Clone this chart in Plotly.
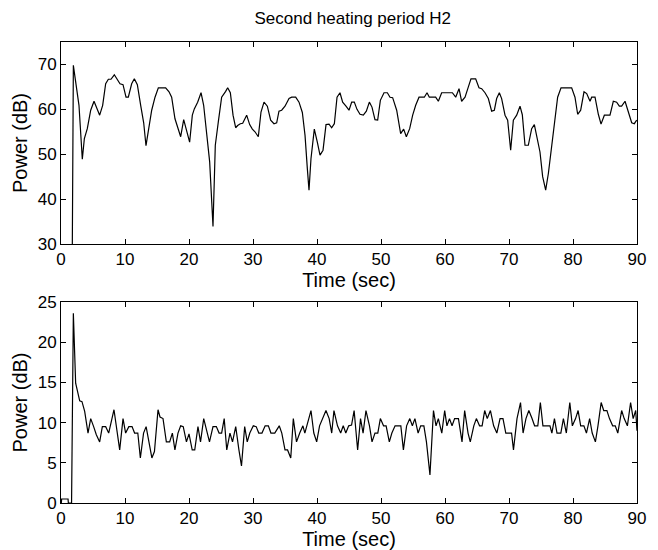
import plotly.graph_objects as go
from plotly.subplots import make_subplots

# ---- Top panel (Power dB vs time) ----
t_top = [0.1, 1.1, 1.65, 1.93, 2.81, 3.33, 3.65, 4.11, 4.64, 5.16, 5.57, 6.04, 6.51, 6.98, 7.40, 7.81,
         8.33, 8.75, 9.22, 9.69, 10.16, 10.52, 11.04, 11.46, 11.93, 12.45, 12.92, 13.28, 13.75, 14.17,
         14.69, 15.21, 15.73, 16.35, 16.88, 17.29, 17.81, 18.23, 18.70, 19.17, 19.64, 20.10, 20.52,
         20.83, 21.35, 21.88, 22.29, 22.76, 23.23, 23.75, 24.11, 24.58, 25.10, 25.73, 26.04, 26.46,
         26.88, 27.29, 27.60, 28.02, 28.39, 29.01, 29.48, 29.90, 30.31, 30.83, 31.25, 31.72, 32.24,
         32.76, 33.28, 33.70, 34.06, 34.48, 35.00, 35.63, 36.04, 36.67, 37.19, 37.71, 38.13, 38.49,
         38.75, 39.06, 39.58, 40.05, 40.47, 40.94, 41.41, 41.88, 42.29, 42.71, 43.13, 43.59, 44.01,
         44.53, 45.00, 45.42, 45.83, 46.25, 46.72, 47.24, 47.71, 48.18, 48.59, 49.06, 49.48, 49.90,
         50.47, 50.99, 51.41, 51.82, 52.45, 53.07, 53.54, 53.96, 54.48, 54.95, 55.42, 55.94, 56.35,
         56.77, 57.19, 57.55, 58.07, 58.54, 58.96, 59.48, 60.00, 60.26, 61.15, 61.67, 62.19, 62.60,
         63.13, 63.65, 64.06, 64.79, 65.31, 65.73, 66.25, 66.77, 67.29, 67.71, 68.07, 68.49, 68.85,
         69.38, 69.79, 70.26, 70.68, 71.20, 71.72, 72.08, 72.50, 73.02, 73.54, 73.96, 74.32, 74.84,
         75.26, 75.73, 76.15, 76.67, 77.19, 77.60, 78.13, 78.75, 79.27, 79.79, 80.31, 80.73, 81.20,
         81.72, 82.14, 82.66, 82.92, 83.44, 83.96, 84.38, 84.90, 85.42, 85.78, 86.30, 86.82, 87.24,
         87.60, 88.13, 88.54, 89.17, 89.58, 89.95]
p_top = [0, 0, 0, 69.8, 60.9, 48.9, 53.5, 55.7, 59.8, 61.8, 60.5, 58.7, 60.9, 65.7, 66.7, 66.7,
         67.7, 66.7, 65.7, 65.5, 62.7, 62.7, 65.7, 66.8, 65.5, 60.9, 57.0, 51.9, 56.4, 59.8,
         62.7, 64.8, 64.8, 64.8, 63.9, 62.7, 57.9, 56.1, 53.9, 57.7, 55.0, 52.7, 58.7,
         60.1, 61.6, 63.7, 60.9, 55.0, 48.3, 33.9, 52.0, 57.2, 62.7, 64.0, 64.8, 63.7,
         58.7, 55.9, 56.4, 56.8, 56.9, 58.7, 56.6, 55.6, 55.0, 53.9, 59.4, 61.6, 60.7,
         57.6, 56.8, 57.0, 59.6, 59.8, 60.7, 62.4, 62.7, 62.7, 61.6, 59.3, 54.2, 46.8,
         42.0, 49.0, 55.6, 52.7, 49.8, 50.9, 56.6, 56.7, 55.9, 56.8, 62.7, 63.7, 61.6,
         60.7, 59.8, 61.6, 61.6, 60.0, 58.9, 58.7, 59.6, 61.6, 60.5, 57.7, 57.6, 62.0,
         63.7, 63.7, 62.7, 62.6, 59.8, 54.6, 55.6, 53.9, 55.7, 58.7, 60.9, 62.7, 62.7,
         62.7, 63.7, 62.7, 62.7, 62.7, 61.8, 63.7, 63.7, 63.7, 63.7, 62.7, 64.6, 61.8,
         62.7, 65.0, 66.8, 66.8, 64.8, 64.6, 63.7, 62.4, 59.6, 59.8, 62.4, 63.7, 62.4,
         58.7, 57.6, 50.9, 57.6, 58.7, 60.7, 58.8, 52.0, 52.0, 55.7, 56.6, 54.2, 50.5,
         45.0, 42.0, 45.7, 52.0, 58.7, 62.7, 64.8, 64.8, 64.8, 64.8, 62.7, 58.9, 59.8,
         63.9, 63.5, 61.8, 62.7, 62.7, 58.9, 56.7, 58.7, 58.7, 58.7, 61.8, 61.6, 60.7,
         60.7, 61.8, 59.8, 57.0, 56.8, 57.6]

# ---- Bottom panel ----
t_bot = [0.05, 0.1, 1.1, 1.15, 1.65, 1.93, 2.29, 2.55, 2.92, 3.28, 3.70, 4.22, 4.64, 5.10, 5.52,
         6.04, 6.46, 6.98, 7.45, 8.28, 9.17, 9.69, 10.1, 10.6, 11.1, 11.5, 12.0, 12.4, 12.9, 13.3,
         13.75, 14.2, 14.6, 15.16, 15.47, 15.94, 16.46, 16.98, 17.4, 17.8, 18.28, 18.7, 19.1, 19.6,
         20.0, 20.5, 20.9, 21.4, 21.8, 22.3, 23.2, 23.75, 24.27, 24.7, 25.1, 25.5, 25.9, 26.4, 26.8,
         27.3, 27.8, 28.2, 28.7, 29.1, 29.5, 30.05, 30.5, 30.9, 31.4, 31.9, 32.4, 32.8, 33.4, 34.1,
         34.5, 35.0, 35.4, 35.9, 36.3, 36.8, 37.3, 37.8, 38.1, 38.65, 39.06, 39.5, 39.95, 40.4, 40.9,
         41.4, 41.9, 42.3, 42.65, 43.2, 43.7, 44.1, 44.5, 44.95, 45.4, 45.8, 46.35, 46.8, 47.2,
         47.65, 48.2, 48.6, 49.06, 49.5, 49.9, 50.4, 50.8, 51.3, 51.7, 52.2, 52.8, 53.1, 53.5, 54.0,
         54.5, 54.9, 55.3, 55.8, 56.2, 56.7, 57.1, 57.65, 58.2, 58.6, 58.96, 59.5, 59.95, 60.3, 60.7,
         61.1, 61.5, 62.1, 62.66, 63.07, 63.6, 63.95, 64.5, 64.9, 65.4, 65.8, 66.2, 66.6, 67.1, 67.6,
         68.1, 68.6, 69.06, 69.5, 70.0, 70.4, 70.7, 71.25, 71.8, 72.2, 72.65, 73.1, 73.6, 74.0, 74.5,
         74.9, 75.3, 75.8, 76.4, 76.7, 77.1, 77.5, 78.1, 78.5, 78.96, 79.5, 79.9, 80.4, 80.8, 81.2,
         81.7, 82.1, 82.6, 83.0, 83.5, 83.9, 84.4, 84.8, 85.3, 85.7, 86.2, 86.6, 87.0, 87.6, 88.0,
         88.5, 89.0, 89.4, 89.8, 90.0]
p_bot = [0, 0.5, 0.5, 0, 0, 23.6, 14.9, 13.8, 12.7, 12.6, 11.4, 8.7, 10.5, 9.5, 8.5,
         7.6, 9.5, 9.5, 8.7, 11.6, 6.6, 10.5, 8.7, 9.5, 9.5, 8.7, 8.7, 5.6, 8.7, 9.5,
         7.4, 5.6, 6.4, 11.6, 10.7, 10.5, 7.6, 7.6, 8.7, 6.6, 8.7, 9.6, 9.5, 7.6,
         8.6, 6.6, 6.6, 9.5, 7.6, 10.5, 7.6, 9.5, 9.5, 8.7, 8.7, 10.5, 6.6, 8.7, 7.6,
         9.5, 6.6, 4.6, 9.5, 7.6, 8.7, 9.6, 9.5, 8.7, 8.7, 9.6, 9.6, 8.7, 8.7, 9.6,
         8.7, 6.6, 6.6, 5.6, 10.5, 7.6, 8.7, 9.6, 8.7, 10.5, 11.5, 8.7, 7.6, 9.6, 10.5,
         11.5, 10.5, 8.7, 11.5, 9.6, 8.7, 9.6, 8.7, 9.6, 9.7, 11.5, 6.6, 10.5, 8.7,
         11.5, 9.6, 7.6, 8.7, 8.7, 10.5, 9.6, 9.6, 7.6, 8.7, 9.6, 9.6, 9.6, 6.6, 9.6,
         10.5, 9.6, 10.5, 8.7, 9.6, 9.6, 7.6, 3.5, 11.5, 9.6, 10.5, 8.7, 11.5, 9.6, 10.5,
         9.6, 10.5, 10.5, 7.6, 11.5, 8.7, 7.6, 9.6, 10.5, 9.6, 9.6, 11.5, 10.5, 11.5, 9.6,
         8.7, 10.5, 10.5, 8.7, 8.7, 8.7, 6.6, 10.5, 12.5, 8.7, 10.5, 11.5, 10.5, 9.6, 9.6,
         12.5, 9.6, 9.6, 9.6, 8.7, 10.5, 8.7, 8.7, 10.5, 8.7, 12.5, 9.6, 10.5, 11.5, 9.6,
         9.6, 8.7, 10.5, 8.7, 7.6, 9.6, 12.5, 11.5, 11.5, 10.5, 9.6, 9.6, 8.7, 11.5, 10.5,
         9.6, 12.5, 10.5, 11.5, 9.0]

x_ticks = [0, 10, 20, 30, 40, 50, 60, 70, 80, 90]
y_ticks_top = [30, 40, 50, 60, 70]
y_ticks_bot = [0, 5, 10, 15, 20, 25]

FONT = "Liberation Sans, Arial, Helvetica, sans-serif"

fig = make_subplots(rows=2, cols=1, vertical_spacing=0.1)
fig.add_trace(go.Scatter(x=t_top, y=p_top, mode="lines",
                         line=dict(color="black", width=1.2), showlegend=False), row=1, col=1)
fig.add_trace(go.Scatter(x=t_bot, y=p_bot, mode="lines",
                         line=dict(color="black", width=1.2), showlegend=False), row=2, col=1)

axis_common = dict(showline=True, linecolor="black", linewidth=1, mirror="ticks",
                   ticks="inside", ticklen=5, tickcolor="black", showgrid=False,
                   zeroline=False, automargin=False,
                   tickfont=dict(family=FONT, size=17, color="black"))

fig.update_xaxes(range=[0, 90], tickvals=x_ticks, **axis_common,
                 title=dict(text="Time (sec)", font=dict(family=FONT, size=20, color="black"),
                            standoff=2))
fig.update_yaxes(**axis_common,
                 title=dict(text="Power (dB)", font=dict(family=FONT, size=20, color="black"),
                            standoff=4))
fig.update_yaxes(range=[30, 75], tickvals=y_ticks_top, row=1, col=1)
fig.update_yaxes(range=[0, 25], tickvals=y_ticks_bot, row=2, col=1)

fig.update_layout(
    width=658, height=550,
    margin=dict(l=53, r=29, t=34, b=55),
    paper_bgcolor="white", plot_bgcolor="white",
    title=dict(text="Second heating period H2", x=0.524, xanchor="center", y=0.982, yanchor="middle",
               font=dict(family=FONT, size=17, color="black")),
)
fig.layout.yaxis.domain = [0.5618, 1.0]
fig.layout.yaxis2.domain = [0.0, 0.436]

fig.write_html("out.html")
